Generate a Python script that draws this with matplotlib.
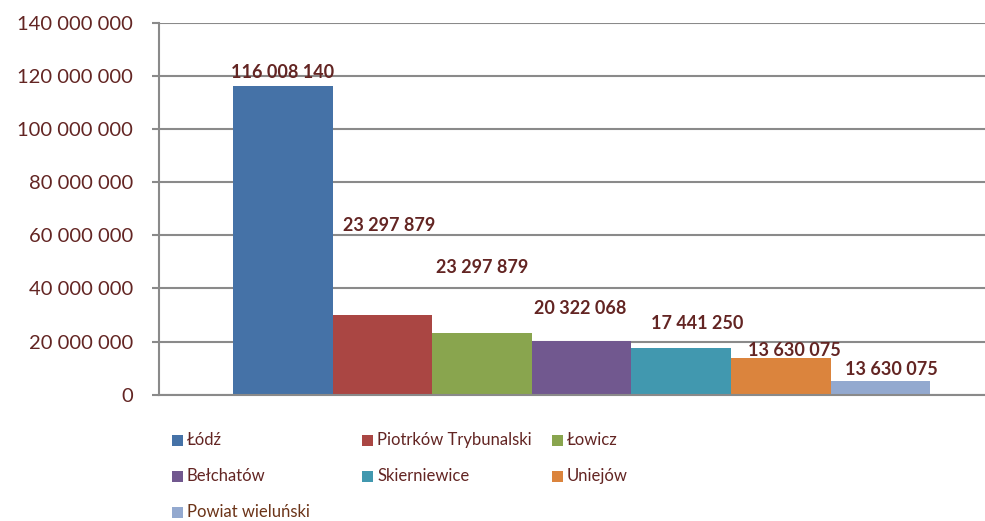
import matplotlib
matplotlib.use("Agg")
import matplotlib.pyplot as plt
from matplotlib.patches import Rectangle
from matplotlib.ticker import FuncFormatter

# ---- data ----
categories = ["Łódź", "Piotrków Trybunalski", "Łowicz", "Bełchatów",
              "Skierniewice", "Uniejów", "Powiat wieluński"]
values = [116008140, 30000000, 23297879, 20322068, 17441250, 13630075, 5200000]
label_texts = ["116 008 140", "23 297 879", "23 297 879", "20 322 068",
               "17 441 250", "13 630 075", "13 630 075"]
yticks = [0, 20000000, 40000000, 60000000, 80000000, 100000000, 120000000, 140000000]

# ---- style / layout ----
colors = ["#4572A7", "#AA4643", "#89A54E", "#71588F", "#4198AF", "#DB843D", "#93A9CF"]
label_y = [121.3e6, 63.5e6, 47.7e6, 32.4e6, 26.8e6, 16.6e6, 9.3e6]
label_dx = [0.0, 0.07, 0.0, -0.015, 0.16, 0.135, 0.11]
txt_col = "#632523"
grid_col = "#8a8a8a"
FONT = ["Lato", "DejaVu Sans"]
plt.rcParams["font.family"] = FONT

W, H = 985, 521
fig = plt.figure(figsize=(W / 100, H / 100), dpi=100)
ax = fig.add_axes([159 / W, 126.3 / H, 1 - 159 / W, (394.7 - 22.7) / H])

x = list(range(len(categories)))
ax.bar(x, values, width=1.0, color=colors, zorder=3)

for xi, t, ly, dx in zip(x, label_texts, label_y, label_dx):
    ax.text(xi + dx, ly, t, ha="center", va="center", fontsize=13,
            fontweight="bold", color=txt_col, zorder=4)

ax.set_xlim(-1.243, 7.05)
ax.set_ylim(0, 140000000)
ax.set_yticks(yticks)
ax.yaxis.set_major_formatter(FuncFormatter(lambda v, p: f"{int(v):,}".replace(",", " ")))
ax.set_xticks([])
ax.tick_params(axis="y", length=5, width=1.5, color=grid_col, pad=13.5,
               labelsize=14.5, labelcolor=txt_col)
ax.grid(axis="y", color=grid_col, linewidth=1.5, zorder=0)
for s in ["top", "right"]:
    ax.spines[s].set_visible(False)
for s in ["left", "bottom"]:
    ax.spines[s].set_color(grid_col)
    ax.spines[s].set_linewidth(1.5)
    ax.spines[s].set_zorder(5)

# ---- legend (manual grid) ----
col_x = [172, 362, 552]
row_y = [440, 476, 512]
leg_text_cols = [txt_col] * 6 + ["#6b3317"]
for i, (name, c) in enumerate(zip(categories, colors)):
    cx = col_x[i % 3]
    cy = row_y[i // 3]
    fig.add_artist(Rectangle(((cx) / W, (H - cy - 5.5) / H), 11 / W, 11 / H,
                             transform=fig.transFigure, facecolor=c, edgecolor="none"))
    fig.text((cx + 15) / W, (H - cy) / H, name, ha="left", va="center",
             fontsize=12, color=leg_text_cols[i])

fig.savefig("out.png", dpi=100)
